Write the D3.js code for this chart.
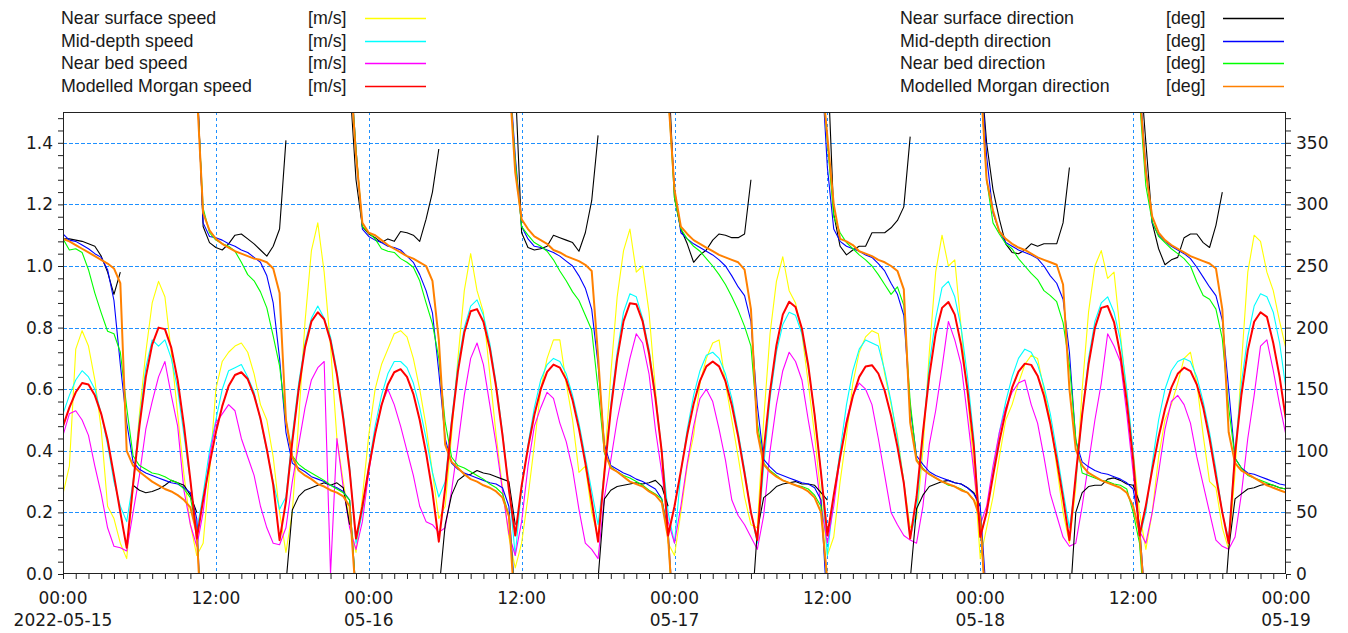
<!DOCTYPE html>
<html>
<head>
<meta charset="utf-8">
<script src="https://cdn.jsdelivr.net/npm/d3@7"></script>
<style>
  body { margin: 0; background: #fff; }
  svg text { font-family: "Liberation Sans", Arial, sans-serif; font-size: 17.8px; fill: #1a1a1a; }
  svg .ticklab text, svg text.ticklab { font-family: "DejaVu Sans", sans-serif; font-size: 17px; }
</style>
</head>
<body>
<div id="chart"></div>
<script>
// half-hour samples, hours since 2022-05-15 00:00
const hours = d3.range(0, 96.5, 0.5);

// speeds [m/s]
const nearSurfaceSpeed = [
  0.26,0.35,0.73,0.79,0.74,0.63,0.47,0.22,0.18,0.1,0.05,0.28,0.52,0.72,0.88,0.95,0.9,0.72,0.52,0.32,0.16,0.06,0.1,0.33,
  0.6,0.69,0.72,0.74,0.75,0.72,0.65,0.55,0.5,0.38,0.2,0.07,0.2,0.5,0.82,1.05,1.14,0.98,0.74,0.44,0.3,0.17,0.07,0.25,
  0.45,0.6,0.68,0.73,0.78,0.79,0.77,0.7,0.6,0.48,0.33,0.18,0.22,0.45,0.7,0.92,1.04,0.92,0.85,0.65,0.45,0.28,0.12,0.02,
  0.1,0.25,0.42,0.6,0.7,0.76,0.76,0.62,0.5,0.33,0.35,0.2,0.12,0.35,0.65,0.9,1.05,1.12,0.98,1.0,0.85,0.6,0.38,0.1,
  0.06,0.2,0.35,0.45,0.62,0.7,0.75,0.76,0.62,0.5,0.38,0.25,0.16,0.15,0.5,0.78,0.95,1.03,0.92,0.88,0.78,0.62,0.45,0.25,
  0.06,0.12,0.3,0.45,0.62,0.72,0.77,0.79,0.78,0.65,0.55,0.45,0.3,0.15,0.18,0.4,0.72,0.98,1.1,1.0,1.02,0.8,0.58,0.35,
  0.05,0.15,0.25,0.38,0.5,0.55,0.62,0.68,0.71,0.7,0.6,0.5,0.35,0.2,0.1,0.28,0.6,0.85,1.0,1.05,0.96,0.98,0.78,0.58,
  0.4,0.2,0.08,0.2,0.38,0.5,0.55,0.62,0.7,0.72,0.62,0.45,0.3,0.28,0.15,0.08,0.33,0.68,0.98,1.1,1.08,0.98,0.92,0.82,
  0.73
];
const midDepthSpeed = [
  0.52,0.58,0.63,0.66,0.64,0.6,0.52,0.42,0.3,0.22,0.17,0.3,0.5,0.67,0.76,0.74,0.76,0.7,0.6,0.45,0.3,0.14,0.26,0.4,
  0.5,0.6,0.66,0.67,0.68,0.64,0.59,0.5,0.4,0.3,0.21,0.25,0.45,0.62,0.75,0.83,0.87,0.83,0.77,0.66,0.52,0.35,0.1,0.2,
  0.35,0.48,0.58,0.65,0.69,0.69,0.67,0.62,0.54,0.44,0.33,0.25,0.3,0.5,0.68,0.8,0.87,0.89,0.84,0.75,0.62,0.46,0.28,0.06,
  0.28,0.42,0.54,0.63,0.68,0.7,0.69,0.65,0.58,0.49,0.38,0.27,0.16,0.33,0.55,0.72,0.85,0.91,0.9,0.83,0.73,0.58,0.4,0.2,
  0.1,0.33,0.47,0.58,0.66,0.71,0.72,0.7,0.65,0.57,0.46,0.34,0.2,0.1,0.35,0.57,0.72,0.81,0.85,0.84,0.78,0.67,0.52,0.33,
  0.06,0.25,0.4,0.55,0.66,0.73,0.76,0.75,0.74,0.66,0.56,0.44,0.3,0.12,0.2,0.45,0.68,0.83,0.93,0.95,0.9,0.8,0.64,0.44,
  0.12,0.2,0.33,0.46,0.56,0.64,0.7,0.73,0.72,0.68,0.61,0.52,0.4,0.27,0.15,0.3,0.52,0.7,0.82,0.88,0.9,0.85,0.76,0.6,
  0.4,0.12,0.2,0.36,0.5,0.6,0.66,0.69,0.7,0.69,0.64,0.56,0.46,0.34,0.2,0.11,0.4,0.62,0.77,0.87,0.91,0.9,0.85,0.75,
  0.6
];
const nearBedSpeed = [
  0.45,0.52,0.53,0.5,0.45,0.35,0.26,0.15,0.09,0.085,0.075,0.2,0.32,0.47,0.56,0.64,0.69,0.58,0.48,0.27,0.16,0.09,0.2,0.38,
  0.49,0.52,0.55,0.53,0.44,0.38,0.32,0.22,0.15,0.1,0.095,0.15,0.3,0.42,0.54,0.63,0.67,0.69,0.0,0.44,0.28,0.15,0.08,0.17,
  0.33,0.46,0.55,0.6,0.55,0.48,0.4,0.32,0.22,0.17,0.16,0.135,0.15,0.27,0.42,0.58,0.7,0.75,0.68,0.55,0.42,0.27,0.13,0.06,
  0.17,0.35,0.48,0.54,0.59,0.57,0.49,0.43,0.34,0.21,0.1,0.08,0.05,0.25,0.37,0.5,0.6,0.7,0.78,0.75,0.65,0.47,0.33,0.17,
  0.1,0.22,0.36,0.48,0.57,0.6,0.56,0.47,0.37,0.24,0.19,0.16,0.12,0.08,0.19,0.4,0.55,0.66,0.72,0.69,0.63,0.5,0.38,0.22,
  0.1,0.22,0.38,0.5,0.58,0.62,0.6,0.55,0.44,0.32,0.2,0.16,0.125,0.11,0.1,0.22,0.42,0.53,0.67,0.82,0.76,0.68,0.51,0.33,
  0.16,0.22,0.35,0.46,0.54,0.59,0.62,0.63,0.55,0.49,0.38,0.26,0.19,0.12,0.09,0.1,0.22,0.36,0.5,0.62,0.78,0.74,0.69,0.52,
  0.33,0.14,0.1,0.2,0.33,0.47,0.56,0.58,0.55,0.49,0.38,0.29,0.2,0.11,0.09,0.08,0.12,0.26,0.44,0.58,0.74,0.76,0.66,0.55,
  0.45
];
const modelSpeed = [
  0.48,0.54,0.59,0.62,0.615,0.58,0.52,0.435,0.32,0.2,0.085,0.29,0.48,0.64,0.745,0.80,0.795,0.735,0.63,0.48,0.305,0.115,0.24,0.355,
  0.46,0.545,0.61,0.646,0.655,0.633,0.58,0.505,0.405,0.29,0.11,0.235,0.43,0.60,0.737,0.82,0.85,0.827,0.757,0.648,0.504,0.335,0.115,0.22,
  0.343,0.455,0.547,0.615,0.655,0.665,0.64,0.585,0.50,0.393,0.267,0.105,0.28,0.485,0.658,0.784,0.853,0.86,0.819,0.733,0.607,0.45,0.274,0.125,
  0.286,0.41,0.517,0.60,0.656,0.68,0.67,0.631,0.564,0.472,0.361,0.237,0.105,0.329,0.533,0.70,0.821,0.879,0.876,0.82,0.716,0.572,0.397,0.125,
  0.22,0.335,0.453,0.552,0.627,0.674,0.69,0.674,0.626,0.548,0.446,0.326,0.2,0.11,0.40,0.593,0.742,0.842,0.884,0.867,0.797,0.677,0.517,0.328,
  0.125,0.256,0.379,0.489,0.577,0.64,0.674,0.678,0.651,0.595,0.514,0.413,0.295,0.115,0.25,0.46,0.643,0.782,0.864,0.883,0.842,0.744,0.597,0.413,
  0.12,0.2,0.318,0.431,0.528,0.605,0.657,0.683,0.679,0.644,0.579,0.487,0.373,0.246,0.11,0.322,0.517,0.681,0.799,0.864,0.87,0.818,0.712,0.559,
  0.373,0.125,0.222,0.339,0.445,0.535,0.605,0.65,0.67,0.659,0.615,0.541,0.439,0.318,0.2,0.10,0.39,0.582,0.726,0.819,0.85,0.835,0.75,0.64,
  0.50
];

// directions [deg]; null = no reading
const nearSurfaceDir = [
  272,272,271,270,268,266,258,245,227,245,null,72,68,66,67,69,72,76,74,72,64,50,282,269,
  265,263,268,275,276,272,268,263,258,266,280,352,52,63,68,70,72,74,72,74,70,40,320,282,
  276,273,269,272,270,278,277,275,270,288,310,345,40,64,76,80,81,84,82,81,79,77,75,40,
  277,265,263,264,266,275,273,271,269,262,277,303,356,61,68,71,72,73,74,73,74,76,71,55,
  305,280,268,253,259,263,271,276,275,273,273,276,320,35,62,66,71,73,74,75,73,73,72,66,
  60,292,266,259,263,266,266,277,277,277,281,287,298,355,53,64,71,73,75,76,74,73,70,66,
  55,350,312,288,268,261,260,263,268,266,268,268,268,285,330,50,66,71,72,72,77,78,76,73,
  72,58,350,285,264,251,255,257,273,276,276,269,265,283,310,20,61,65,69,70,72,73,72,70,
  69
];
const midDepthDir = [
  276,271,270,267,264,260,257,247,222,170,123,91,85,82,80,78,76,74,73,70,66,45,285,274,
  273,271,268,266,263,261,257,253,242,220,175,115,90,86,83,79,77,75,72,70,67,60,345,280,
  274,271,269,266,265,263,258,253,243,230,212,164,110,90,85,82,80,78,76,74,73,70,55,339,
  282,272,266,265,263,261,258,254,250,242,232,215,170,105,88,85,82,80,77,75,72,69,61,35,
  312,277,272,268,265,262,259,255,250,242,233,226,205,137,93,87,82,80,78,76,74,73,70,60,
  330,280,270,266,264,262,259,257,252,246,236,227,210,135,96,89,83,80,78,76,74,73,70,65,
  55,339,293,278,269,266,263,261,259,256,250,242,236,223,180,108,91,87,84,82,81,79,77,74,
  69,40,330,285,275,270,266,263,260,256,249,241,233,226,206,150,94,86,82,81,79,77,75,73,
  72
];
const nearBedDir = [
  272,263,264,261,247,228,212,197,195,180,135,96,88,85,82,81,79,76,74,69,62,35,297,277,
  271,268,266,262,253,243,238,229,216,193,169,125,96,89,85,82,79,76,72,69,66,60,345,282,
  277,272,264,262,261,256,253,249,238,220,203,175,123,95,88,86,83,80,77,73,70,65,48,335,
  282,275,269,266,262,255,246,238,229,222,210,198,150,98,87,83,80,78,75,72,68,65,61,30,
  305,280,272,266,262,256,250,243,235,225,214,201,185,123,90,84,80,76,74,72,71,69,64,55,
  350,290,277,269,264,259,255,250,243,235,227,233,218,140,93,86,81,78,75,72,71,69,66,60,
  47,320,285,276,268,264,256,250,244,239,230,226,221,204,170,110,82,80,78,76,75,73,72,69,
  50,25,315,286,274,269,264,260,256,250,237,226,223,215,191,135,94,86,80,78,76,74,72,70,
  69
];
const modelDir = [
  272,270,267,264,261,258,255,252,248,236,100,88,83,79,75,72,69,67,64,60,54,33,293,279,
  272,268,265,262,260,258,256,255,253,248,228,125,95,84,80,77,73,71,68,66,63,55,340,285,
  277,275,271,267,264,261,258,256,253,250,238,190,105,91,86,81,77,75,72,70,67,62,47,326,
  288,280,274,271,268,263,261,258,256,254,251,246,177,100,86,83,79,75,73,71,67,64,58,29,
  312,282,276,271,268,265,262,259,257,255,253,247,215,115,89,83,79,76,74,72,70,67,62,50,
  355,300,272,270,267,262,260,258,255,253,250,246,231,123,92,85,81,78,75,73,71,68,66,60,
  45,320,295,278,272,268,265,263,260,257,255,253,251,235,150,101,88,82,79,76,74,72,70,66,
  55,34,326,290,277,271,267,264,261,258,256,254,252,248,215,115,90,84,81,78,75,72,70,68,
  66
];

// axis labels
const timeLabelHours = [0, 12, 24, 36, 48, 60, 72, 84, 96];
const timeLabels = ["00:00", "12:00", "00:00", "12:00", "00:00", "12:00", "00:00", "12:00", "00:00"];
const dateLabels = ["2022-05-15", "", "05-16", "", "05-17", "", "05-18", "", "05-19"];

const speedLegend = ["Near surface speed", "Mid-depth speed", "Near bed speed", "Modelled Morgan speed"];
const dirLegend = ["Near surface direction", "Mid-depth direction", "Near bed direction", "Modelled Morgan direction"];

const speedColors = ["#ffff00", "#00ffff", "#ff00ff", "#ff0000"];
const dirColors = ["#000000", "#0000ff", "#00ff00", "#ff8000"];

const W = 1348, H = 633;
const plot = { left: 63, right: 1286, top: 112, bottom: 574 };

const x = d3.scaleLinear().domain([0, 96]).range([plot.left, plot.right]);
const ySpeed = d3.scaleLinear().domain([0, 1.5]).range([plot.bottom, plot.top]);
const yDir = d3.scaleLinear().domain([0, 375]).range([plot.bottom, plot.top]);

const svg = d3.select("#chart").append("svg")
  .attr("width", W).attr("height", H);

svg.append("defs").append("clipPath").attr("id", "plotclip")
  .append("rect")
  .attr("x", plot.left).attr("y", plot.top)
  .attr("width", plot.right - plot.left).attr("height", plot.bottom - plot.top);

// grid
const gridColor = "#1e90ff";
svg.append("g").selectAll("line")
  .data([0.2, 0.4, 0.6, 0.8, 1.0, 1.2, 1.4])
  .join("line")
  .attr("x1", plot.left).attr("x2", plot.right)
  .attr("y1", d => Math.round(ySpeed(d)) + 0.5).attr("y2", d => Math.round(ySpeed(d)) + 0.5)
  .attr("stroke", gridColor).attr("stroke-dasharray", "4,2");
svg.append("g").selectAll("line")
  .data([12, 24, 36, 48, 60, 72, 84])
  .join("line")
  .attr("x1", d => Math.round(x(d)) + 0.5).attr("x2", d => Math.round(x(d)) + 0.5)
  .attr("y1", plot.top).attr("y2", plot.bottom)
  .attr("stroke", gridColor).attr("stroke-dasharray", "3,3");

// axes
const isMajor = (d, step) => Math.abs(Math.round(d / step) * step - d) < 1e-6;

const leftAxis = d3.axisLeft(ySpeed)
  .tickValues(d3.range(0, 1.5, 0.04))
  .tickSize(5)
  .tickFormat(d => isMajor(d, 0.2) ? d3.format(".1f")(d) : "");
const gl = svg.append("g").attr("class", "ticklab").attr("transform", `translate(${plot.left},0)`).call(leftAxis);

const rightAxis = d3.axisRight(yDir)
  .tickValues(d3.range(0, 375, 10))
  .tickSize(5)
  .tickFormat(d => d % 50 === 0 ? d : "");
const gr = svg.append("g").attr("class", "ticklab").attr("transform", `translate(${plot.right},0)`).call(rightAxis);

const bottomAxis = d3.axisBottom(x)
  .tickValues(d3.range(0, 97, 1))
  .tickSize(5)
  .tickFormat("");
const gb = svg.append("g").attr("transform", `translate(0,${plot.bottom})`).call(bottomAxis);

[gl, gr, gb].forEach(g => {
  g.select(".domain").remove();
  g.selectAll(".tick line").attr("stroke", "#222");
  g.selectAll("text").attr("font-size", null).attr("font-family", null).attr("fill", null);
});
gl.selectAll("text").attr("x", -10);
gr.selectAll("text").attr("x", 10);

svg.append("g").attr("class", "ticklab").selectAll("text")
  .data(timeLabelHours)
  .join("text")
  .attr("x", d => x(d)).attr("y", 604)
  .attr("text-anchor", "middle")
  .text((d, i) => timeLabels[i]);
svg.append("g").attr("class", "ticklab").selectAll("text")
  .data(timeLabelHours)
  .join("text")
  .attr("x", d => x(d)).attr("y", 626)
  .attr("text-anchor", "middle")
  .text((d, i) => dateLabels[i]);

// series
const plotG = svg.append("g").attr("clip-path", "url(#plotclip)");

const speedLine = d3.line()
  .x((d, i) => x(hours[i]))
  .y(d => ySpeed(d));

// direction lines: a jump across north is drawn out through the top / bottom
// edge ("both"), only coming back in from the edge ("enter"), or left open
function wrapPieces(values, mode) {
  const pieces = [];
  let cur = [];
  values.forEach((v, i) => {
    if (v == null) {
      if (cur.length) pieces.push(cur);
      cur = [];
      return;
    }
    const p = i > 0 ? values[i - 1] : null;
    if (p != null && Math.abs(v - p) > 200) {
      const shift = v > p ? -360 : 360;
      if (mode === "both") cur.push([hours[i], v + shift]);
      pieces.push(cur);
      cur = mode === "none" ? [] : [[hours[i - 1], p - shift]];
    }
    cur.push([hours[i], v]);
  });
  if (cur.length) pieces.push(cur);
  return pieces;
}
const dirLine = d3.line()
  .x(d => x(d[0]))
  .y(d => yDir(d[1]));

function drawSpeed(values, color, width) {
  plotG.append("path")
    .datum(values)
    .attr("d", speedLine)
    .attr("fill", "none")
    .attr("stroke", color)
    .attr("stroke-width", width)
    .attr("stroke-linejoin", "round");
}
function drawDir(values, color, width, mode) {
  plotG.append("g").selectAll("path")
    .data(wrapPieces(values, mode))
    .join("path")
    .attr("d", dirLine)
    .attr("fill", "none")
    .attr("stroke", color)
    .attr("stroke-width", width)
    .attr("stroke-linejoin", "round");
}

drawSpeed(nearSurfaceSpeed, speedColors[0], 1.1);
drawSpeed(midDepthSpeed, speedColors[1], 1.1);
drawSpeed(nearBedSpeed, speedColors[2], 1.1);
drawDir(nearSurfaceDir, dirColors[0], 1.1, "enter");
drawDir(midDepthDir, dirColors[1], 1.1, "both");
drawDir(nearBedDir, dirColors[2], 1.1, "both");
drawDir(modelDir, dirColors[3], 2, "both");
drawSpeed(modelSpeed, speedColors[3], 2);

// frame
svg.append("rect")
  .attr("x", plot.left + 0.5).attr("y", plot.top + 0.5)
  .attr("width", plot.right - plot.left - 1).attr("height", plot.bottom - plot.top - 1)
  .attr("fill", "none").attr("stroke", "#222");

// legends
const rowY = [18, 41, 63, 86];
function legend(labels, colors, unit, x0, xUnit, xLine) {
  const g = svg.append("g");
  labels.forEach((lab, i) => {
    g.append("text").attr("x", x0).attr("y", rowY[i]).attr("dy", "0.35em").text(lab);
    g.append("text").attr("x", xUnit).attr("y", rowY[i]).attr("dy", "0.35em").text(unit);
    g.append("line")
      .attr("x1", xLine).attr("x2", xLine + 61)
      .attr("y1", rowY[i] + 0.5).attr("y2", rowY[i] + 0.5)
      .attr("stroke", colors[i]).attr("stroke-width", 1.3);
  });
}
legend(speedLegend, speedColors, "[m/s]", 61, 308, 365);
legend(dirLegend, dirColors, "[deg]", 900, 1166, 1223);
</script>
</body>
</html>
